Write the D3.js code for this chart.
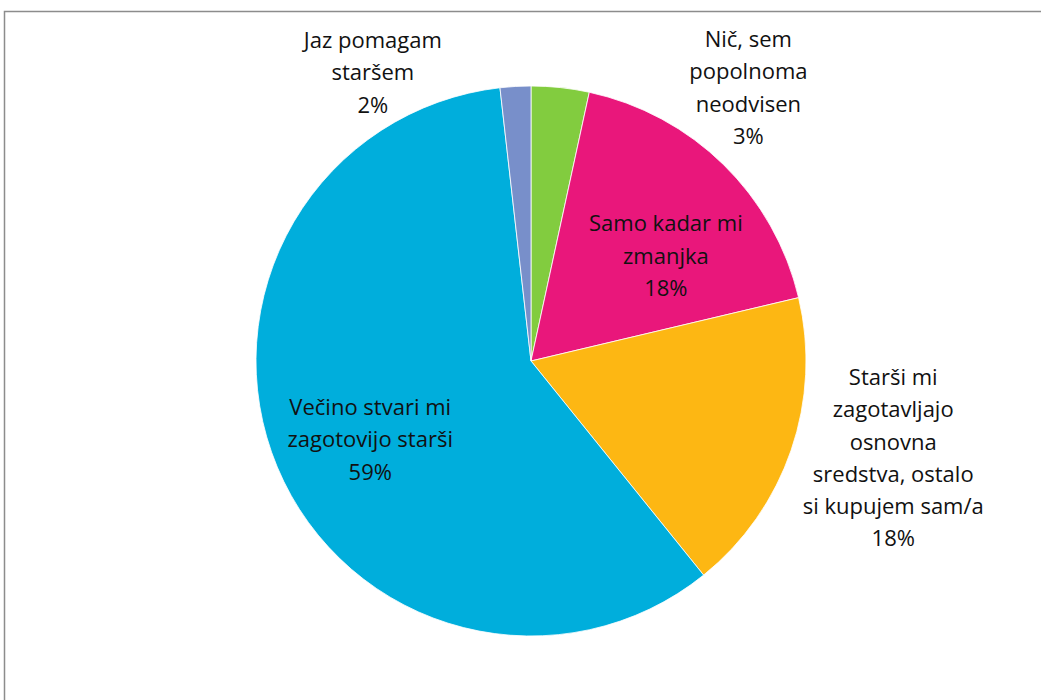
<!DOCTYPE html>
<html>
<head>
<meta charset="utf-8">
<script src="https://cdn.jsdelivr.net/npm/d3@7"></script>
<style>
  body { margin: 0; background: #fff; }
  text { font-family: "Open Sans", Lato, sans-serif; font-size: 22px; fill: #111; }
</style>
</head>
<body>
<div id="chart"></div>
<script>
// DATA
const categories = [
    ['Nič, sem', 'popolnoma', 'neodvisen'],
    ['Samo kadar mi', 'zmanjka'],
    ['Starši mi', 'zagotavljajo', 'osnovna', 'sredstva, ostalo', 'si kupujem sam/a'],
    ['Večino stvari mi', 'zagotovijo starši'],
    ['Jaz pomagam', 'staršem']
];
const values = [3.4, 17.9, 17.9, 59.0, 1.8];
const percentLabels = ['3%', '18%', '18%', '59%', '2%'];
const colors = ['#82cc3f', '#e9177b', '#fdb713', '#00aedc', '#788fca'];

// CONFIG
const width = 1041,
    height = 700;
const cx = 531,
    cy = 361,
    radius = 275;
const lineHeight = 32.3;

// label anchor: distance from centre (px) and angle nudge (deg) for each slice
const labelLayout = [
    { r: 349, nudge: 32.4 },
    { r: 171, nudge: 7.6 },
    { r: 375, nudge: -3.9 },
    { r: 179, nudge: -3.4 },
    { r: 329, nudge: -25.5 }
];

const svg = d3.select('#chart')
    .append('svg')
    .attr('width', width)
    .attr('height', height);

// frame
svg.append('rect')
    .attr('x', 4.5)
    .attr('y', 11.5)
    .attr('width', width + 20)
    .attr('height', height + 20)
    .attr('fill', 'none')
    .attr('stroke', '#8c8c8c')
    .attr('stroke-width', 1.5);

const pie = d3.pie().sort(null).value(d => d);
const arcs = pie(values);

const arc = d3.arc().innerRadius(0).outerRadius(radius);

const g = svg.append('g')
    .attr('transform', `translate(${cx}, ${cy})`);

g.selectAll('path')
    .data(arcs)
    .enter()
    .append('path')
    .attr('d', arc)
    .attr('fill', (d, i) => colors[i])
    .attr('stroke', '#fff')
    .attr('stroke-width', 0.8);

const labels = g.selectAll('text.label')
    .data(arcs)
    .enter()
    .append('text')
    .attr('class', 'label')
    .attr('text-anchor', 'middle')
    .attr('transform', (d, i) => {
        const a = (d.startAngle + d.endAngle) / 2 + labelLayout[i].nudge * Math.PI / 180;
        const r = labelLayout[i].r;
        const nLines = categories[i].length + 1;
        const x = r * Math.sin(a);
        const y = -r * Math.cos(a) - (nLines - 1) * lineHeight / 2;
        return `translate(${x}, ${y})`;
    });

labels.each(function (d, i) {
    const t = d3.select(this);
    const lines = categories[i].concat([percentLabels[i]]);
    lines.forEach((line, j) => {
        t.append('tspan')
            .attr('x', 0)
            .attr('y', j * lineHeight)
            .attr('dy', '0.35em')
            .text(line);
    });
});
</script>
</body>
</html>
